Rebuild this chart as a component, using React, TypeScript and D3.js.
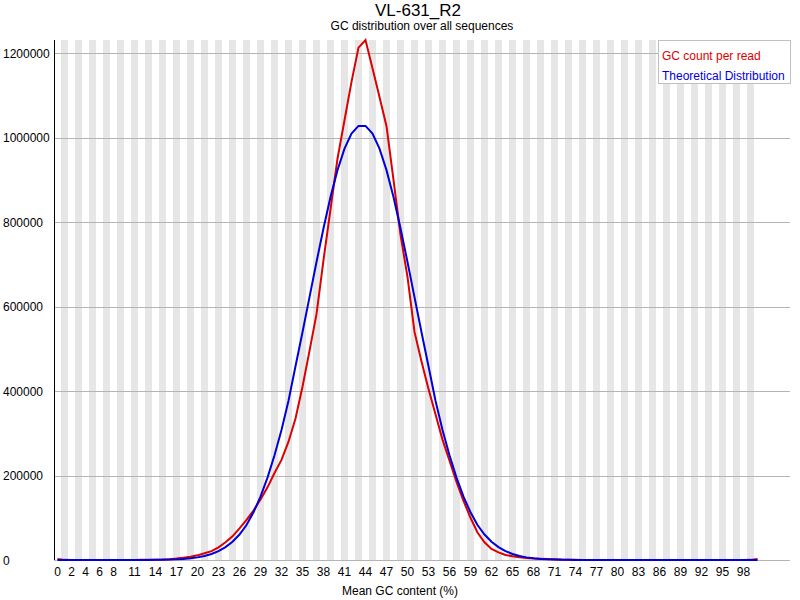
import React from "react";
import * as d3 from "d3";

const chartTitle = "VL-631_R2";
const chartSubtitle = "GC distribution over all sequences";
const xAxisTitle = "Mean GC content (%)";
const seriesNames = ["GC count per read", "Theoretical Distribution"];

// GC percent categories 0..100
const gcPercent: number[] = d3.range(0, 101);

const gcCountPerRead: number[] = [
  2500, 300, 100, 100, 100, 100, 100, 100, 150, 150,
  200, 250, 300, 400, 600, 1000, 2000, 3500, 5500, 7500,
  11000, 16000, 21000, 30000, 42000, 56000, 75000, 95000, 117000, 143000,
  172000, 206000, 237000, 280000, 335000, 410000, 495000, 582000, 710000, 830000,
  950000, 1041000, 1132000, 1213000, 1231000, 1164000, 1096000, 1027000, 900000, 770000,
  670000, 540000, 470000, 405000, 345000, 285000, 235000, 185000, 140000, 100000,
  65000, 42000, 26000, 18000, 12000, 9000, 6500, 4500, 3500, 3000,
  2500, 2000, 1000, 500, 300, 250, 200, 200, 150, 150,
  150, 100, 100, 100, 100, 100, 100, 100, 100, 100,
  100, 100, 100, 100, 100, 100, 100, 150, 200, 300,
  2500,
];

const theoretical: number[] = [
  0, 0, 0, 0, 0, 0, 0, 0, 0, 0,
  0, 50, 100, 200, 300, 600, 900, 1500, 2500, 4000,
  6200, 9500, 14300, 21000, 30500, 43300, 60400, 82800, 113000, 150000,
  195000, 248000, 308000, 377000, 458800, 539100, 622200, 705400, 785500, 859100,
  922900, 973900, 1009400, 1027700, 1027700, 1009400, 973900, 922900, 859100, 785500,
  705400, 622200, 539100, 458800, 377000, 308000, 248000, 195000, 150000, 113000,
  82800, 60400, 43300, 30500, 21000, 14300, 9500, 6200, 4000, 2500,
  1500, 900, 600, 300, 200, 100, 50, 0, 0, 0,
  0, 0, 0, 0, 0, 0, 0, 0, 0, 0,
  0, 0, 0, 0, 0, 0, 0, 0, 0, 0,
  0,
];

const xTickLabels: number[] = [
  0, 2, 4, 6, 8, 11, 14, 17, 20, 23, 26, 29, 32, 35, 38, 41, 44, 47, 50,
  53, 56, 59, 62, 65, 68, 71, 74, 77, 80, 83, 86, 89, 92, 95, 98,
];
const yTicks: number[] = [0, 200000, 400000, 600000, 800000, 1000000, 1200000];

const W = 800;
const H = 600;
const LEFT = 54;
const TOP = 40;
const BOTTOM = 560;
const GRID_RIGHT = 790;
const BIN = 7;
const FONT = "'Liberation Sans', Arial, Helvetica, sans-serif";
const RED = "rgb(220,0,0)";
const BLUE = "rgb(0,0,220)";

export default function App() {
  const x = d3
    .scaleBand<number>()
    .domain(gcPercent)
    .range([LEFT, LEFT + BIN * gcPercent.length])
    .padding(0);
  const bw = x.bandwidth();
  const cx = (i: number) => (x(i) as number) + bw / 2;

  const maxY = d3.max([...gcCountPerRead, ...theoretical]) as number;
  const y = d3.scaleLinear().domain([0, maxY]).range([BOTTOM, TOP]);

  const line = d3
    .line<number>()
    .x((_, i) => cx(gcPercent[i]))
    .y((d) => y(d));

  const plotCenter = LEFT + (W - (LEFT + 10)) / 2;

  return (
    <div style={{ position: "fixed", left: 0, top: 0, width: W, height: H, background: "#fff" }}>
      <svg width={W} height={H} viewBox={`0 0 ${W} ${H}`} style={{ display: "block", fontFamily: FONT }}>
        <rect x={0} y={0} width={W} height={H} fill="#fff" />
        {/* alternating stripes */}
        <g shapeRendering="crispEdges">
          {gcPercent
            .filter((d) => d % 2 !== 0)
            .map((d) => (
              <rect key={d} x={x(d)} y={TOP} width={bw} height={BOTTOM - TOP} fill="rgb(230,230,230)" />
            ))}
        </g>
        {/* horizontal grid */}
        <g shapeRendering="crispEdges">
          {yTicks.map((t) => (
            <line
              key={t}
              x1={LEFT}
              x2={GRID_RIGHT}
              y1={Math.round(y(t)) + 0.5}
              y2={Math.round(y(t)) + 0.5}
              stroke="rgb(180,180,180)"
              strokeWidth={1}
            />
          ))}
        </g>
        {/* y axis */}
        <line x1={LEFT + 0.5} x2={LEFT + 0.5} y1={TOP} y2={BOTTOM} stroke="#000" strokeWidth={1} shapeRendering="crispEdges" />
        {/* y tick labels */}
        {yTicks.map((t) => (
          <text key={t} x={3} y={y(t) + 4.5} fontSize={12} fill="#000">
            {String(t)}
          </text>
        ))}
        {/* x tick labels */}
        {xTickLabels.map((t) => (
          <text key={t} x={cx(t)} y={576} fontSize={12} textAnchor="middle" fill="#000">
            {String(t)}
          </text>
        ))}
        {/* series */}
        <path d={line(gcCountPerRead) || ""} fill="none" stroke={RED} strokeWidth={2} strokeLinejoin="miter" />
        <path d={line(theoretical) || ""} fill="none" stroke={BLUE} strokeWidth={2} strokeLinejoin="miter" />
        {/* legend */}
        <rect x={658.5} y={40.5} width={132} height={43} fill="#fff" stroke="rgb(192,192,192)" strokeWidth={1} shapeRendering="crispEdges" />
        <text x={662} y={60} fontSize={12} fill={RED}>
          {seriesNames[0]}
        </text>
        <text x={662} y={80} fontSize={12} fill={BLUE}>
          {seriesNames[1]}
        </text>
        {/* titles */}
        <text x={plotCenter - 4} y={16} fontSize={17} textAnchor="middle" fill="#000">
          {chartTitle}
        </text>
        <text x={plotCenter} y={30} fontSize={12} textAnchor="middle" fill="#000">
          {chartSubtitle}
        </text>
        <text x={W / 2} y={595} fontSize={12} textAnchor="middle" fill="#000">
          {xAxisTitle}
        </text>
      </svg>
    </div>
  );
}
